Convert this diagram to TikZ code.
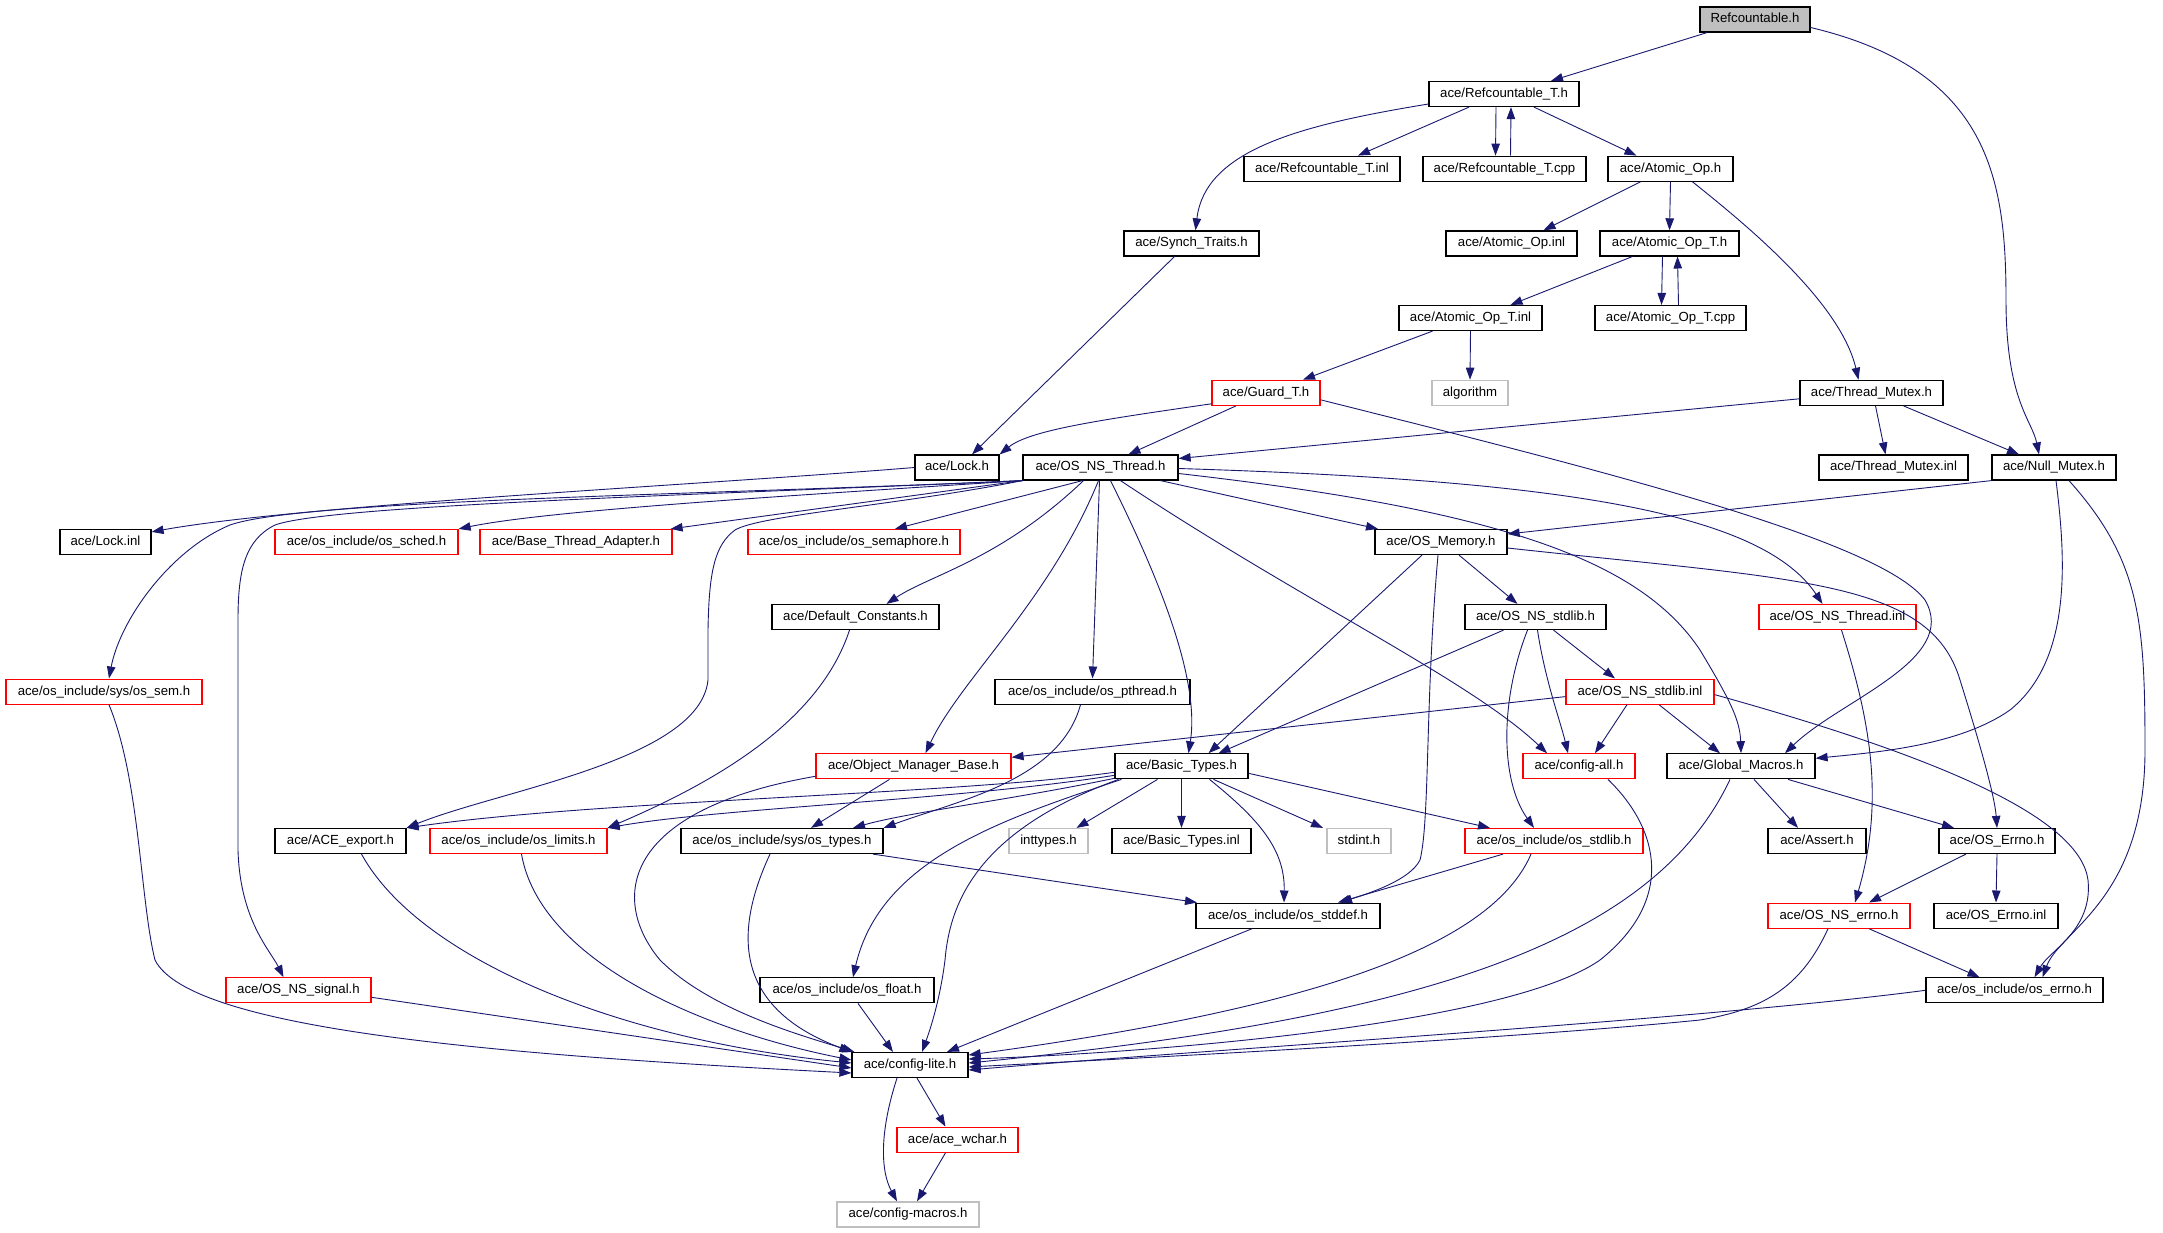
\documentclass[tikz,border=0pt]{standalone}
\usepackage{fontspec}
\setmainfont{Liberation Sans}
\usetikzlibrary{arrows.meta}
\definecolor{edgecol}{HTML}{191970}
\definecolor{grayc}{HTML}{BFBFBF}
\begin{document}
\begin{tikzpicture}[x=1pt,y=-1pt,
  nb/.style={draw=black,line width=1.2pt,inner sep=0pt,minimum height=25pt,
    font=\fontsize{13.2}{15}\selectfont,text height=9.5pt,text depth=2.7pt},
  rb/.style={nb,draw=red},
  gb/.style={nb,draw=grayc},
  e/.style={draw=edgecol,line width=0.9pt,-{Triangle[length=12pt,width=8.5pt]}}]
\fill[white] (0,0) rectangle (2163,1232);
\useasboundingbox (0,0) rectangle (2163,1232);
% nodes
\node[nb,fill=grayc,minimum width=110] (refc) at (1755,19.5) {Refcountable.h};
\node[nb,minimum width=150] (refcT) at (1504,94) {ace/Refcountable\_T.h};
\node[nb,minimum width=156] (refcTinl) at (1322,168.7) {ace/Refcountable\_T.inl};
\node[nb,minimum width=163] (refcTcpp) at (1504.5,168.7) {ace/Refcountable\_T.cpp};
\node[nb,minimum width=125] (atomic) at (1670.5,168.7) {ace/Atomic\_Op.h};
\node[nb,minimum width=135] (synch) at (1191.5,243.4) {ace/Synch\_Traits.h};
\node[nb,minimum width=131] (atomicinl) at (1511.5,243.4) {ace/Atomic\_Op.inl};
\node[nb,minimum width=139] (atomicT) at (1669.5,243.4) {ace/Atomic\_Op\_T.h};
\node[nb,minimum width=143] (atomicTinl) at (1470.5,318) {ace/Atomic\_Op\_T.inl};
\node[nb,minimum width=151] (atomicTcpp) at (1670.5,318) {ace/Atomic\_Op\_T.cpp};
\node[rb,minimum width=108] (guard) at (1266,392.8) {ace/Guard\_T.h};
\node[gb,minimum width=76] (algorithm) at (1470,392.8) {algorithm};
\node[nb,minimum width=143] (tmutex) at (1871.5,392.8) {ace/Thread\_Mutex.h};
\node[nb,minimum width=84] (lock) at (957,467.5) {ace/Lock.h};
\node[nb,minimum width=155] (osthread) at (1100.5,467.5) {ace/OS\_NS\_Thread.h};
\node[nb,minimum width=149] (tmutexinl) at (1893.5,467.5) {ace/Thread\_Mutex.inl};
\node[nb,minimum width=124] (nullmutex) at (2054,467.5) {ace/Null\_Mutex.h};
\node[nb,minimum width=91] (lockinl) at (105.5,542) {ace/Lock.inl};
\node[rb,minimum width=183] (ossched) at (366.5,542) {ace/os\_include/os\_sched.h};
\node[rb,minimum width=192] (bta) at (576,542) {ace/Base\_Thread\_Adapter.h};
\node[rb,minimum width=212] (ossema) at (854,542) {ace/os\_include/os\_semaphore.h};
\node[nb,minimum width=132] (osmem) at (1441,542) {ace/OS\_Memory.h};
\node[nb,minimum width=167] (defconst) at (855.5,617) {ace/Default\_Constants.h};
\node[nb,minimum width=141] (osstdlib) at (1535.5,617) {ace/OS\_NS\_stdlib.h};
\node[rb,minimum width=157] (osthreadinl) at (1837.5,617) {ace/OS\_NS\_Thread.inl};
\node[rb,minimum width=196] (ossem) at (104,691.6) {ace/os\_include/sys/os\_sem.h};
\node[nb,minimum width=195] (ospthread) at (1092.5,691.6) {ace/os\_include/os\_pthread.h};
\node[rb,minimum width=148] (osstdlibinl) at (1640,691.6) {ace/OS\_NS\_stdlib.inl};
\node[rb,minimum width=195] (omb) at (913.5,766.3) {ace/Object\_Manager\_Base.h};
\node[nb,minimum width=133] (basic) at (1181.5,766.3) {ace/Basic\_Types.h};
\node[rb,minimum width=112] (configall) at (1579,766.3) {ace/config-all.h};
\node[nb,minimum width=148] (gmacros) at (1741,766.3) {ace/Global\_Macros.h};
\node[nb,minimum width=131] (aceexport) at (340.5,841) {ace/ACE\_export.h};
\node[rb,minimum width=177] (oslimits) at (518.5,841) {ace/os\_include/os\_limits.h};
\node[nb,minimum width=202] (ostypes) at (782,841) {ace/os\_include/sys/os\_types.h};
\node[gb,minimum width=79] (inttypes) at (1048.5,841) {inttypes.h};
\node[nb,minimum width=139] (basicinl) at (1181.5,841) {ace/Basic\_Types.inl};
\node[gb,minimum width=64] (stdint) at (1359,841) {stdint.h};
\node[rb,minimum width=178] (osstdlibh) at (1554,841) {ace/os\_include/os\_stdlib.h};
\node[nb,minimum width=98] (assert) at (1817,841) {ace/Assert.h};
\node[nb,minimum width=116] (oserrno) at (1997,841) {ace/OS\_Errno.h};
\node[nb,minimum width=184] (osstddef) at (1288,915.6) {ace/os\_include/os\_stddef.h};
\node[rb,minimum width=142] (osnserrno) at (1839,915.6) {ace/OS\_NS\_errno.h};
\node[nb,minimum width=124] (oserrnoinl) at (1996,915.6) {ace/OS\_Errno.inl};
\node[rb,minimum width=145] (nssignal) at (298.5,990.3) {ace/OS\_NS\_signal.h};
\node[nb,minimum width=174] (osfloat) at (847,990.3) {ace/os\_include/os\_float.h};
\node[nb,minimum width=177] (oserrnoh) at (2014.5,990.3) {ace/os\_include/os\_errno.h};
\node[nb,minimum width=116] (configlite) at (910,1065) {ace/config-lite.h};
\node[rb,minimum width=121] (wchar) at (957.5,1139.7) {ace/ace\_wchar.h};
\node[gb,minimum width=142] (macros) at (908,1214.4) {ace/config-macros.h};
% edges
\draw[e] ([xshift=-48]refc.south) -- ([xshift=47]refcT.north);
\draw[e] ([yshift=-8]refc.east) .. controls (1990,70) and (2006,180) .. (2006,300) .. controls (2006,400) and (2032,420) .. ([xshift=-15]nullmutex.north);
\draw[e] ([yshift=-10]refcT.west) .. controls (1300,125) and (1205,150) .. ([xshift=4]synch.north);
\draw[e] ([xshift=-35]refcT.south) -- ([xshift=36]refcTinl.north);
\draw[e] ([xshift=-8]refcT.south) -- ([xshift=-9]refcTcpp.north);
\draw[e] ([xshift=6]refcTcpp.north) -- ([xshift=7]refcT.south);
\draw[e] ([xshift=30]refcT.south) -- ([xshift=-34]atomic.north);
\draw[e] ([xshift=-30]atomic.south) -- ([xshift=32]atomicinl.north);
\draw[e] (atomic.south) -- (atomicT.north);
\draw[e] ([xshift=22]atomic.south) .. controls (1740,220) and (1840,300) .. ([xshift=-13]tmutex.north);
\draw[e] ([xshift=-37]atomicT.south) -- ([xshift=40]atomicTinl.north);
\draw[e] ([xshift=-7]atomicT.south) -- ([xshift=-9]atomicTcpp.north);
\draw[e] ([xshift=8]atomicTcpp.north) -- ([xshift=8]atomicT.south);
\draw[e] ([xshift=-38]atomicTinl.south) -- ([xshift=37]guard.north);
\draw[e] (atomicTinl.south) -- (algorithm.north);
\draw[e] ([xshift=-17]synch.south) -- ([xshift=15]lock.north);
\draw[e] ([yshift=-11]guard.west) .. controls (1100,420) and (1030,430) .. (lock.north east);
\draw[e] ([xshift=-30]guard.south) -- ([xshift=28]osthread.north);
\draw[e] ([yshift=-7]guard.east) .. controls (1600,470) and (1880,540) .. (1925,600) .. controls (1960,660) and (1840,700) .. ([xshift=44]gmacros.north);
\draw[e] ([xshift=2]nullmutex.south) .. controls (2066,560) and (2072,660) .. (2010,710) .. controls (1960,745) and (1880,752) .. ([yshift=8]gmacros.east);
\draw[e] ([xshift=15]nullmutex.south) .. controls (2140,560) and (2145,620) .. (2145,750) .. controls (2145,900) and (2060,930) .. ([xshift=28]oserrnoh.north);
\draw[e] (nullmutex.south west) -- ([yshift=8]osmem.east);
\draw[e] ([yshift=-6]tmutex.west) -- ([yshift=9]osthread.east);
\draw[e] ([xshift=4]tmutex.south) -- ([xshift=-8]tmutexinl.north);
\draw[e] ([xshift=32]tmutex.south) -- ([xshift=-35]nullmutex.north);
\draw[e] (lock.west) .. controls (700,485) and (300,505) .. ([yshift=-3]lockinl.north east);
\draw[e] (osthread.south west) .. controls (700,495) and (300,500) .. (230,525) .. controls (170,550) and (120,620) .. ([xshift=5]ossem.north);
\draw[e] (osthread.south west) .. controls (700,495) and (330,505) .. (275,525) .. controls (245,540) and (238,570) .. (238,620) -- (238,850) .. controls (240,920) and (270,950) .. ([xshift=-15]nssignal.north);
\draw[e] (osthread.south west) .. controls (800,495) and (550,510) .. (ossched.north east);
\draw[e] (osthread.south west) -- ([xshift=-2]bta.north east);
\draw[e] (osthread.south west) .. controls (900,505) and (760,515) .. (735,530) .. controls (715,545) and (709,570) .. (708,630) -- (708,680) .. controls (700,760) and (500,790) .. (aceexport.north east);
\draw[e] ([xshift=-18]osthread.south) -- ([xshift=41]ossema.north);
\draw[e] ([xshift=-17]osthread.south) .. controls (1000,560) and (930,575) .. ([xshift=31]defconst.north);
\draw[e] ([xshift=-2]osthread.south) .. controls (1050,600) and (960,680) .. ([xshift=12]omb.north);
\draw[e] ([xshift=-1]osthread.south) -- (ospthread.north);
\draw[e] ([xshift=10]osthread.south) .. controls (1160,580) and (1200,680) .. ([xshift=7]basic.north);
\draw[e] ([xshift=60]osthread.south) -- ([xshift=-63]osmem.north);
\draw[e] ([xshift=20]osthread.south) .. controls (1300,600) and (1470,680) .. ([xshift=-32]configall.north);
\draw[e] ([yshift=-6]osthread.east) .. controls (1500,510) and (1640,560) .. (1700,650) .. controls (1730,700) and (1740,720) .. (gmacros.north);
\draw[e] ([yshift=-1]osthread.east) .. controls (1550,480) and (1760,510) .. ([xshift=-15]osthreadinl.north);
\draw[e] ([xshift=-19]osmem.south) -- ([xshift=27]basic.north);
\draw[e] ([xshift=-3]osmem.south) .. controls (1425,700) and (1430,820) .. (1420,860) .. controls (1410,880) and (1370,893) .. ([xshift=52]osstddef.north);
\draw[e] ([xshift=18]osmem.south) -- ([xshift=-18]osstdlib.north);
\draw[e] ([yshift=-6]osmem.east) .. controls (1800,580) and (1930,580) .. (1960,680) .. controls (1985,760) and (1995,800) .. (oserrno.north);
\draw[e] ([xshift=-32]osstdlib.south) -- ([xshift=37]basic.north);
\draw[e] ([xshift=-8]osstdlib.south) .. controls (1500,700) and (1500,780) .. ([xshift=-20]osstdlibh.north);
\draw[e] ([xshift=2]osstdlib.south) .. controls (1545,680) and (1560,720) .. ([xshift=-11]configall.north);
\draw[e] ([xshift=18]osstdlib.south) -- ([xshift=-25]osstdlibinl.north);
\draw[e] ([yshift=-5]osstdlibinl.west) -- ([yshift=9]omb.east);
\draw[e] ([xshift=-13]osstdlibinl.south) -- ([xshift=16]configall.north);
\draw[e] ([xshift=19]osstdlibinl.south) -- ([xshift=-21]gmacros.north);
\draw[e] ([yshift=-3]osstdlibinl.east) .. controls (1950,760) and (2080,820) .. (2088,880) .. controls (2093,930) and (2050,950) .. ([xshift=20]oserrnoh.north);
\draw[e] ([xshift=4]osthreadinl.south) .. controls (1870,720) and (1885,800) .. ([xshift=16]osnserrno.north);
\draw[e] ([xshift=-11]gmacros.south) .. controls (1650,950) and (1400,1020) .. ([yshift=2]configlite.east);
\draw[e] ([xshift=13]gmacros.south) -- ([xshift=-19]assert.north);
\draw[e] ([xshift=47]gmacros.south) -- ([xshift=-43]oserrno.north);
\draw[e] ([xshift=-31]oserrno.south) -- ([xshift=30]osnserrno.north);
\draw[e] (oserrno.south) -- (oserrnoinl.north);
\draw[e] ([xshift=30]osnserrno.south) -- ([xshift=-35]oserrnoh.north);
\draw[e] ([xshift=-11]osnserrno.south) .. controls (1800,990) and (1760,1010) .. (1700,1020) .. controls (1500,1040) and (1100,1060) .. ([yshift=-2]configlite.east);
\draw[e] (oserrnoh.west) .. controls (1700,1020) and (1200,1050) .. ([yshift=-5]configlite.east);
\draw[e] ([xshift=29]configall.south) .. controls (1660,830) and (1675,900) .. (1600,960) .. controls (1500,1030) and (1100,1055) .. ([yshift=6]configlite.east);
\draw[e] ([xshift=-51]osstdlibh.south) -- ([xshift=50]osstddef.north);
\draw[e] ([xshift=-23]osstdlibh.south) .. controls (1490,950) and (1300,1010) .. ([yshift=10]configlite.east);
\draw[e] ([xshift=-36]osstddef.south) -- ([xshift=37]configlite.north);
\draw[e] ([xshift=91]ostypes.south) -- ([xshift=-91]osstddef.north);
\draw[e] ([xshift=-12]ostypes.south) .. controls (730,940) and (740,1010) .. (configlite.north west);
\draw[e] ([xshift=-24]omb.south) -- ([xshift=29]ostypes.north);
\draw[e] ([yshift=-10]omb.west) .. controls (620,810) and (610,900) .. (660,960) .. controls (710,1010) and (800,1035) .. ([xshift=3]configlite.north west);
\draw[e] ([xshift=-12]ospthread.south) .. controls (1060,780) and (960,800) .. (ostypes.north east);
\draw[e] ([xshift=-6]defconst.south) .. controls (820,720) and (720,780) .. (oslimits.north east);
\draw[e] ([yshift=-6]basic.west) .. controls (950,795) and (600,800) .. (aceexport.north east);
\draw[e] ([yshift=-9]basic.west) .. controls (960,800) and (720,808) .. (oslimits.north east);
\draw[e] ([yshift=-12]basic.west) .. controls (1010,800) and (910,812) .. ([xshift=71]ostypes.north);
\draw[e] ([xshift=-24]basic.south) -- ([xshift=28]inttypes.north);
\draw[e] (basic.south) -- (basicinl.north);
\draw[e] ([xshift=32]basic.south) -- ([xshift=-36]stdint.north);
\draw[e] ([yshift=-7]basic.east) -- ([xshift=-64]osstdlibh.north);
\draw[e] ([xshift=28]basic.south) .. controls (1260,820) and (1285,850) .. ([xshift=-4]osstddef.north);
\draw[e] ([xshift=-60]basic.south) .. controls (1000,820) and (880,860) .. ([xshift=6]osfloat.north);
\draw[e] ([xshift=-63]basic.south) .. controls (980,830) and (950,900) .. (945,960) .. controls (940,1000) and (930,1030) .. ([xshift=12]configlite.north);
\draw[e] ([xshift=3]oslimits.south) .. controls (540,960) and (700,1030) .. ([yshift=5]configlite.west);
\draw[e] ([xshift=21]aceexport.south) .. controls (420,960) and (620,1040) .. ([yshift=2]configlite.west);
\draw[e] ([yshift=-7]nssignal.east) -- ([yshift=-3]configlite.west);
\draw[e] ([xshift=5]ossem.south) .. controls (140,780) and (140,900) .. (155,960) .. controls (190,1030) and (500,1055) .. ([yshift=-8]configlite.west);
\draw[e] ([xshift=11]osfloat.south) -- ([xshift=-17]configlite.north);
\draw[e] ([xshift=7]configlite.south) -- ([xshift=-12]wchar.north);
\draw[e] ([xshift=-13]configlite.south) .. controls (880,1130) and (880,1170) .. ([xshift=-11]macros.north);
\draw[e] ([xshift=-12]wchar.south) -- ([xshift=9]macros.north);
\end{tikzpicture}
\end{document}
